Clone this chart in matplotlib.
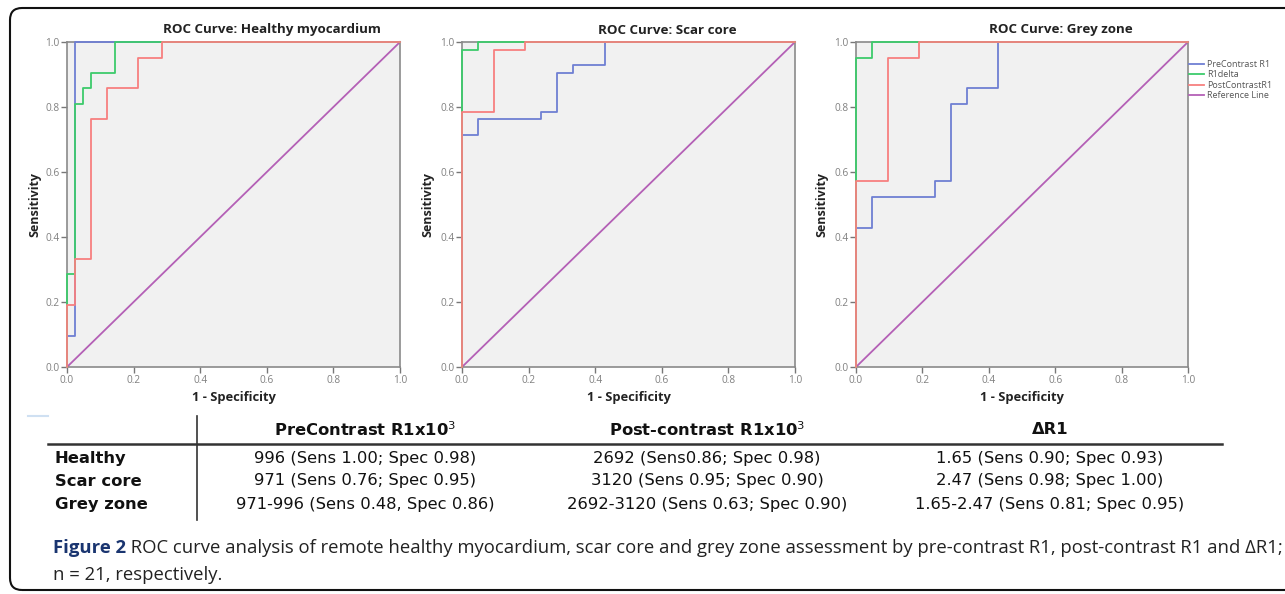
import matplotlib
matplotlib.use("Agg")
import matplotlib.pyplot as plt
from matplotlib.patches import FancyBboxPatch
from matplotlib.transforms import IdentityTransform
from matplotlib.lines import Line2D

# ---------------- data ----------------
panel_titles = ["ROC Curve: Healthy myocardium", "ROC Curve: Scar core", "ROC Curve: Grey zone"]
series_names = ["PreContrast R1", "R1delta", "PostContrastR1", "Reference Line"]

# Healthy myocardium
healthy_pre_fpr = [0, 0, 0.024, 0.024, 1]
healthy_pre_tpr = [0, 0.095, 0.095, 1, 1]
healthy_delta_fpr = [0, 0, 0.024, 0.024, 0.048, 0.048, 0.071, 0.071, 0.143, 0.143, 1]
healthy_delta_tpr = [0, 0.286, 0.286, 0.810, 0.810, 0.857, 0.857, 0.905, 0.905, 1, 1]
healthy_post_fpr = [0, 0, 0.024, 0.024, 0.071, 0.071, 0.119, 0.119, 0.214, 0.214, 0.286, 0.286, 1]
healthy_post_tpr = [0, 0.190, 0.190, 0.333, 0.333, 0.762, 0.762, 0.857, 0.857, 0.952, 0.952, 1, 1]

# Scar core
scar_pre_fpr = [0, 0, 0.048, 0.048, 0.238, 0.238, 0.286, 0.286, 0.333, 0.333, 0.429, 0.429, 1]
scar_pre_tpr = [0, 0.714, 0.714, 0.762, 0.762, 0.786, 0.786, 0.905, 0.905, 0.929, 0.929, 1, 1]
scar_delta_fpr = [0, 0, 0.048, 0.048, 1]
scar_delta_tpr = [0, 0.976, 0.976, 1, 1]
scar_post_fpr = [0, 0, 0.095, 0.095, 0.190, 0.190, 1]
scar_post_tpr = [0, 0.786, 0.786, 0.976, 0.976, 1, 1]

# Grey zone
grey_pre_fpr = [0, 0, 0.048, 0.048, 0.238, 0.238, 0.286, 0.286, 0.333, 0.333, 0.429, 0.429, 1]
grey_pre_tpr = [0, 0.429, 0.429, 0.524, 0.524, 0.571, 0.571, 0.810, 0.810, 0.857, 0.857, 1, 1]
grey_delta_fpr = [0, 0, 0.048, 0.048, 1]
grey_delta_tpr = [0, 0.952, 0.952, 1, 1]
grey_post_fpr = [0, 0, 0.095, 0.095, 0.190, 0.190, 1]
grey_post_tpr = [0, 0.571, 0.571, 0.952, 0.952, 1, 1]

reference_x = [0, 1]
reference_y = [0, 1]

tick_values = [0.0, 0.2, 0.4, 0.6, 0.8, 1.0]

# table
table_columns = ["PreContrast R1x10$^{3}$", "Post-contrast R1x10$^{3}$", "\u0394R1"]
table_rows = ["Healthy", "Scar core", "Grey zone"]
table_cells = [
    ["996 (Sens 1.00; Spec 0.98)", "2692 (Sens0.86; Spec 0.98)", "1.65 (Sens 0.90; Spec 0.93)"],
    ["971 (Sens 0.76; Spec 0.95)", "3120 (Sens 0.95; Spec 0.90)", "2.47 (Sens 0.98; Spec 1.00)"],
    ["971-996 (Sens 0.48, Spec 0.86)", "2692-3120 (Sens 0.63; Spec 0.90)", "1.65-2.47 (Sens 0.81; Spec 0.95)"],
]

caption_bold = "Figure 2"
caption_line1 = " ROC curve analysis of remote healthy myocardium, scar core and grey zone assessment by pre-contrast R1, post-contrast R1 and \u0394R1;"
caption_line2 = "n = 21, respectively."

panels = [
    [(healthy_pre_fpr, healthy_pre_tpr), (healthy_delta_fpr, healthy_delta_tpr), (healthy_post_fpr, healthy_post_tpr)],
    [(scar_pre_fpr, scar_pre_tpr), (scar_delta_fpr, scar_delta_tpr), (scar_post_fpr, scar_post_tpr)],
    [(grey_pre_fpr, grey_pre_tpr), (grey_delta_fpr, grey_delta_tpr), (grey_post_fpr, grey_post_tpr)],
]

# ---------------- style ----------------
W, H = 1285, 594
colors = ["#6f7fd3", "#3dcb6c", "#f7807f", "#b460b6"]
bg = "#f1f1f1"
plt.rcParams["font.family"] = ["Open Sans", "DejaVu Sans"]

fig = plt.figure(figsize=(W / 100, H / 100), dpi=100)

def fx(px):
    return px / W

def fy(py):
    return 1 - py / H

axes_px = [(67, 400), (462, 795), (856, 1188)]
top_px, bot_px = 42, 367
title_cx = [272, 667, 1061]
ylabel_x = [35, 428, 822]

handles = []
for i, (x0, x1) in enumerate(axes_px):
    ax = fig.add_axes([fx(x0), fy(bot_px), (x1 - x0) / W, (bot_px - top_px) / H])
    ax.set_facecolor(bg)
    for k, (xs, ys) in enumerate(panels[i]):
        ln, = ax.plot(xs, ys, color=colors[k], lw=1.3, clip_on=False, zorder=3 + k)
        if i == 2:
            handles.append(ln)
    ln, = ax.plot(reference_x, reference_y, color=colors[3], lw=1.3, clip_on=False, zorder=2)
    if i == 2:
        handles.append(ln)
    ax.set_xlim(0, 1)
    ax.set_ylim(0, 1)
    ax.set_xticks(tick_values)
    ax.set_yticks(tick_values)
    ax.set_xticklabels([f"{v:.1f}" for v in tick_values])
    ax.set_yticklabels([f"{v:.1f}" for v in tick_values])
    ax.tick_params(direction="out", length=4, width=1, color="#777777",
                   labelsize=7.3, labelcolor="#808080", pad=1.5)
    for s in ax.spines.values():
        s.set_color("#8a8a8a")
        s.set_linewidth(1.2)
    fig.text(fx(title_cx[i]), fy(30), panel_titles[i], ha="center", va="center",
             fontsize=9.6, fontweight="bold", color="#222222")
    fig.text(fx((x0 + x1) / 2), fy(397), "1 - Specificity", ha="center", va="center",
             fontsize=9.3, fontweight="bold", color="#222222")
    fig.text(fx(ylabel_x[i]), fy((top_px + bot_px) / 2), "Sensitivity", ha="center", va="center",
             rotation=90, fontsize=9.0, fontweight="bold", color="#222222")

fig.legend(handles, series_names, loc="upper left", bbox_to_anchor=(fx(1189), fy(60)),
           frameon=False, fontsize=6.5, handlelength=1.7, handletextpad=0.3,
           labelspacing=0.15, borderpad=0, borderaxespad=0, labelcolor="#555555")

# ---------------- table ----------------
tfont = ["Liberation Sans Narrow", "DejaVu Sans Condensed", "DejaVu Sans"]
tsize = 11.8
col_cx = [365, 707, 1050]
row_y = [458, 481, 505]
for j, c in enumerate(table_columns):
    fig.text(fx(col_cx[j]), fy(430), c, ha="center", va="center", fontsize=tsize,
             fontweight="bold", family=tfont, color="#111111")
for r, name in enumerate(table_rows):
    fig.text(fx(55), fy(row_y[r]), name, ha="left", va="center", fontsize=tsize,
             fontweight="bold", family=tfont, color="#111111")
    for j in range(3):
        fig.text(fx(col_cx[j]), fy(row_y[r]), table_cells[r][j], ha="center", va="center",
                 fontsize=tsize, family=tfont, color="#111111")

fig.add_artist(Line2D([fx(48), fx(1222)], [fy(444), fy(444)], color="#333333", lw=1.8))
fig.add_artist(Line2D([fx(197), fx(197)], [fy(416), fy(520)], color="#333333", lw=1.2))
fig.add_artist(Line2D([fx(28), fx(48)], [fy(416), fy(416)], color="#cfe0f2", lw=1.5))

# ---------------- caption ----------------
csize = 13.3
t1 = fig.text(fx(53), fy(548), caption_bold, ha="left", va="center", fontsize=csize,
              fontweight="bold", color="#1a3570")
fig.canvas.draw()
bb = t1.get_window_extent()
fig.text(bb.x1 / W, fy(548), caption_line1, ha="left", va="center", fontsize=csize, color="#222222")
fig.text(fx(53), fy(575), caption_line2, ha="left", va="center", fontsize=csize, color="#222222")

# ---------------- border ----------------
border = FancyBboxPatch((10, 4), 1300, 582, boxstyle="round,pad=0,rounding_size=12",
                        transform=IdentityTransform(), fill=False, lw=1.5, ec="#111111")
fig.add_artist(border)

fig.savefig("out.png", dpi=100)
